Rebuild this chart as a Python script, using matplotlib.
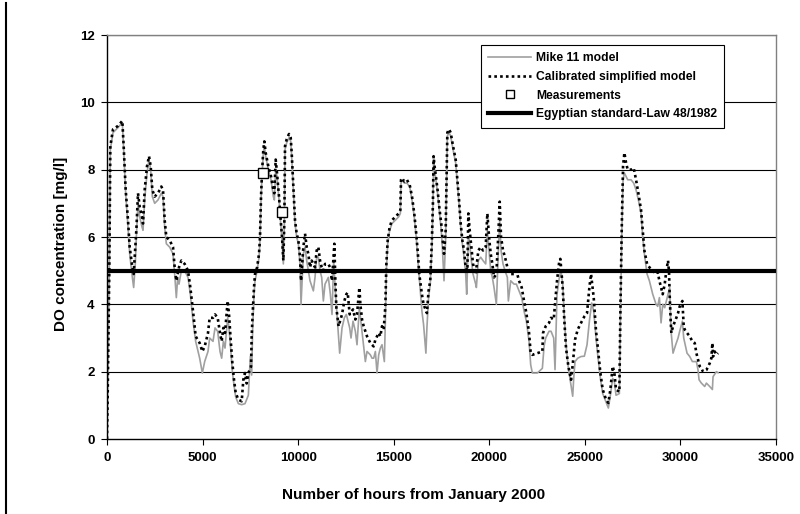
import matplotlib
matplotlib.use("Agg")
import matplotlib.pyplot as plt
from matplotlib.lines import Line2D

plt.rcParams['font.family'] = ['Liberation Sans', 'DejaVu Sans']
plt.rcParams['font.weight'] = 'bold'

# ---------------- data ----------------
hours_mike = [0, 35, 120, 174, 314, 576, 802, 872, 977, 1099, 1186, 1326, 1395, 1480, 1535, 1622, 1709, 1831, 1884,
              1971, 2093, 2198, 2285, 2372, 2494, 2668, 2842, 2930, 3017, 3104, 3279, 3453, 3540, 3627, 3700, 3767,
              3889, 4063, 4238, 4360, 4500, 4639, 4848, 4988, 5110, 5284, 5371, 5546, 5651, 5790, 5912, 5999, 6087,
              6174, 6313, 6383, 6470, 6558, 6645, 6732, 6872, 7046, 7220, 7395, 7500, 7569, 7622, 7691, 7744, 7855,
              7953, 8005, 8058, 8109, 8179, 8232, 8302, 8441, 8581, 8703, 8755, 8825, 8894, 9000, 9087, 9157, 9226,
              9279, 9313, 9400, 9522, 9610, 9662, 9749, 9836, 9924, 10011, 10098, 10151, 10273, 10360, 10447, 10534,
              10621, 10796, 10883, 10970, 11057, 11145, 11232, 11319, 11406, 11581, 11685, 11772, 11859, 11946,
              12115, 12173, 12295, 12417, 12522, 12697, 12766, 12871, 12993, 13080, 13203, 13342, 13516, 13604,
              13778, 13865, 13952, 14040, 14127, 14214, 14301, 14388, 14510, 14563, 14615, 14685, 14789, 14911,
              15086, 15260, 15347, 15382, 15434, 15556, 15690, 15835, 15957, 16074, 16178, 16266, 16388, 16475,
              16562, 16684, 16737, 16824, 16911, 16998, 17051, 17086, 17138, 17208, 17295, 17400, 17487, 17544,
              17632, 17719, 17806, 17893, 17981, 18103, 18242, 18330, 18417, 18504, 18591, 18679, 18766, 18818,
              18905, 18975, 19062, 19149, 19289, 19324, 19428, 19551, 19673, 19812, 19899, 19987, 20074, 20161,
              20248, 20370, 20475, 20545, 20615, 20719, 20824, 20946, 20998, 21120, 21295, 21417, 21556, 21696,
              21818, 21940, 22080, 22167, 22254, 22516, 22777, 22865, 22952, 23126, 23230, 23370, 23439, 23544,
              23666, 23753, 23841, 23928, 24015, 24137, 24277, 24364, 24416, 24486, 24626, 24800, 24974, 25114,
              25236, 25358, 25463, 25585, 25672, 25812, 25934, 26108, 26230, 26335, 26457, 26544, 26631, 26806,
              26858, 26928, 26998, 27068, 27155, 27242, 27417, 27556, 27678, 27800, 27940, 28027, 28114, 28254,
              28376, 28551, 28725, 28812, 28900, 28987, 29074, 29177, 29264, 29351, 29439, 29491, 29526, 29613,
              29753, 29875, 29962, 30102, 30172, 30346, 30486, 30625, 30835, 30922, 30974, 31096, 31270, 31358,
              31532, 31672, 31706, 31881, 31968]
do_mike = [0.0, 1.3, 5.0, 8.6, 9.1, 9.25, 9.4, 8.6, 7.3, 6.3, 5.5, 4.8, 4.5, 5.2, 6.0, 7.0, 6.6, 6.3, 6.2,
           7.1, 7.9, 8.3, 8.0, 7.2, 7.0, 7.1, 7.3, 7.2, 6.3, 5.8, 5.7, 5.5, 4.9, 4.2, 4.8, 4.6,
           5.0, 5.0, 4.8, 4.3, 3.5, 2.9, 2.4, 1.96, 2.3, 2.6, 3.0, 2.9, 3.3, 3.2, 2.6, 2.4, 2.9,
           2.7, 3.6, 3.3, 2.7, 2.0, 1.6, 1.25, 1.05, 1.02, 1.05, 1.3, 2.45, 1.9, 3.3, 4.3, 4.7, 5.0,
           5.4, 5.9, 7.1, 7.8, 8.5, 8.7, 8.4, 8.0, 7.7, 7.2, 7.1, 8.0, 7.8, 7.1, 6.4, 5.9, 5.2,
           6.4, 8.6, 8.8, 8.95, 8.85, 8.4, 7.4, 6.4, 6.0, 5.8, 5.2, 4.0, 5.5, 5.7, 5.3, 5.0,
           4.7, 4.4, 4.8, 5.4, 5.4, 5.0, 4.8, 4.1, 4.6, 4.8, 4.3, 3.7, 5.3, 4.4,
           3.0, 2.55, 3.3, 3.6, 3.7, 3.3, 3.0, 3.5, 3.2, 2.8, 3.9, 3.2, 2.3, 2.6,
           2.5, 2.4, 2.4, 2.6, 1.96, 2.5, 2.7, 2.8, 2.3, 3.5, 5.0, 5.8, 6.2, 6.4,
           6.5, 6.6, 6.7, 7.6, 7.7, 7.6, 7.6, 7.5, 7.1, 6.6, 6.0, 5.3, 4.4, 3.8,
           3.4, 2.55, 3.3, 4.2, 4.6, 5.7, 6.9, 8.3, 8.0, 7.7, 7.3, 6.7, 6.2, 5.7,
           4.7, 6.0, 9.0, 9.1, 9.0, 8.6, 8.2, 7.6, 7.0, 6.3, 5.8, 5.4, 4.9, 4.3,
           6.0, 5.8, 5.3, 4.9, 4.6, 4.5, 5.3, 5.4, 5.3, 5.2, 6.2, 5.6, 5.0, 4.8,
           4.5, 4.0, 5.6, 6.5, 5.6, 5.2, 5.0, 4.8, 4.1, 4.7, 4.6, 4.6, 4.4, 4.2,
           3.8, 3.5, 2.9, 2.2, 1.96, 1.96, 2.1, 2.75, 3.0, 3.2, 3.2, 3.0, 2.06, 4.3,
           4.8, 5.0, 4.6, 3.6, 2.8, 2.1, 1.6, 1.27, 1.8, 2.3, 2.4, 2.45, 2.46, 2.8,
           3.5, 4.04, 3.8, 3.0, 2.5, 1.8, 1.35, 1.1, 0.92, 1.3, 1.8, 1.7, 1.3, 1.35,
           3.5, 6.0, 7.7, 7.9, 7.8, 7.7, 7.7, 7.6, 7.4, 7.1, 6.7, 6.0, 5.5, 4.9,
           4.7, 4.3, 4.0, 3.94, 4.2, 3.45, 4.0, 3.9, 4.1, 4.3, 4.5, 3.5, 3.1, 2.55,
           2.8, 3.0, 3.2, 3.5, 3.0, 2.55, 2.45, 2.3, 2.3, 2.05, 1.76, 1.66, 1.56, 1.66,
           1.56, 1.47, 1.85, 2.0, 1.97]

hours_calib = [0, 35, 120, 174, 314, 576, 802, 872, 977, 1099, 1186, 1326, 1395, 1535, 1622, 1709, 1831, 1884,
               1971, 2093, 2198, 2285, 2372, 2494, 2668, 2842, 2930, 3017, 3104, 3279, 3453, 3540, 3627, 3767,
               3889, 4063, 4238, 4360, 4500, 4639, 4848, 4988, 5110, 5284, 5371, 5546, 5651, 5790, 5912, 5999,
               6087, 6174, 6313, 6383, 6470, 6558, 6645, 6732, 6872, 7046, 7133, 7220, 7308, 7395, 7534, 7569,
               7622, 7691, 7744, 7855, 7953, 8005, 8058, 8109, 8179, 8232, 8302, 8441, 8581, 8703, 8755, 8825,
               8894, 9000, 9087, 9157, 9226, 9279, 9313, 9400, 9522, 9610, 9662, 9749, 9836, 9924, 10011, 10098,
               10151, 10273, 10360, 10447, 10534, 10621, 10708, 10883, 10970, 11057, 11145, 11232, 11319, 11406,
               11581, 11668, 11772, 11859, 11894, 11946, 11999, 12115, 12295, 12417, 12522, 12592, 12697, 12871,
               12993, 13080, 13203, 13255, 13342, 13429, 13604, 13778, 13952, 14040, 14214, 14301, 14388, 14475,
               14563, 14615, 14685, 14789, 14911, 15086, 15260, 15347, 15382, 15434, 15556, 15690, 15835, 15957,
               16074, 16178, 16266, 16336, 16475, 16562, 16737, 16824, 16911, 16998, 17051, 17086, 17138, 17208,
               17295, 17400, 17487, 17544, 17632, 17719, 17806, 17893, 17981, 18103, 18242, 18330, 18417, 18504,
               18591, 18679, 18766, 18853, 18905, 18975, 19062, 19149, 19289, 19428, 19551, 19673, 19812, 19899,
               19987, 20074, 20161, 20248, 20370, 20475, 20545, 20615, 20719, 20824, 20946, 21120, 21295, 21417,
               21556, 21696, 21818, 21940, 22080, 22167, 22254, 22516, 22777, 22812, 22952, 23126, 23230, 23370,
               23544, 23666, 23718, 23841, 23928, 24015, 24137, 24277, 24364, 24486, 24626, 24800, 24974, 25114,
               25236, 25323, 25463, 25585, 25672, 25812, 25934, 26108, 26230, 26335, 26457, 26544, 26631, 26806,
               26858, 26928, 26998, 27068, 27155, 27242, 27417, 27556, 27678, 27800, 27940, 28027, 28114, 28254,
               28376, 28551, 28725, 28812, 28900, 28987, 29074, 29177, 29264, 29351, 29404, 29439, 29491, 29526,
               29613, 29753, 29875, 29962, 30049, 30102, 30172, 30224, 30346, 30486, 30625, 30748, 30835, 30922,
               31009, 31096, 31183, 31358, 31445, 31532, 31619, 31672, 31706, 31794, 31881, 31968]
do_calib = [0.0, 1.3, 5.0, 8.7, 9.2, 9.3, 9.45, 8.7, 7.4, 6.5, 5.7, 5.1, 4.9, 6.2, 7.3, 6.9, 6.6, 6.4,
            7.4, 8.1, 8.4, 8.1, 7.4, 7.2, 7.3, 7.5, 7.4, 6.5, 6.0, 5.9, 5.7, 5.1, 4.7, 5.1,
            5.3, 5.2, 5.0, 4.5, 3.8, 3.05, 2.85, 2.6, 2.75, 3.15, 3.6, 3.6, 3.7, 3.6, 3.15, 2.9,
            3.3, 3.15, 4.1, 3.7, 2.95, 2.26, 1.76, 1.37, 1.17, 1.12, 1.76, 1.96, 1.65, 1.96, 2.15, 3.05,
            3.74, 4.5, 4.9, 5.1, 5.5, 6.0, 7.2, 7.9, 8.6, 8.84, 8.5, 8.1, 7.8, 7.4, 7.3, 8.3,
            7.9, 7.2, 6.5, 6.0, 5.3, 6.5, 8.7, 8.9, 9.06, 8.95, 8.5, 7.5, 6.5, 6.1, 5.9, 5.4,
            4.7, 5.7, 6.1, 5.7, 5.5, 5.1, 5.3, 5.1, 5.6, 5.7, 5.3, 5.1, 5.0, 5.2,
            5.2, 5.1, 4.7, 5.5, 5.8, 4.7, 3.9, 3.35, 3.7, 4.1, 4.3, 4.35, 3.7, 3.85,
            3.55, 3.7, 4.5, 4.0, 3.55, 3.35, 3.05, 2.85, 2.75, 2.95, 3.15, 3.05, 3.35, 3.25,
            3.94, 5.2, 5.9, 6.3, 6.5, 6.6, 6.7, 6.8, 7.7, 7.75, 7.65, 7.7, 7.55, 7.2,
            6.7, 6.1, 5.5, 4.9, 4.3, 4.0, 3.74, 4.4, 4.7, 5.9, 7.0, 8.4, 8.1, 7.8,
            7.4, 6.8, 6.4, 6.0, 5.5, 6.2, 9.1, 9.2, 9.1, 8.7, 8.3, 7.7, 7.1, 6.4,
            5.9, 5.6, 5.1, 5.0, 6.7, 6.2, 5.7, 5.2, 4.9, 5.6, 5.7, 5.6, 5.7, 6.7,
            6.0, 5.5, 5.2, 4.8, 4.9, 6.1, 7.05, 6.0, 5.6, 5.4, 5.1, 4.9, 4.9, 5.0,
            4.7, 4.5, 4.1, 3.74, 3.15, 2.55, 2.5, 2.55, 2.6, 3.15, 3.35, 3.45, 3.6, 3.55,
            4.7, 5.3, 5.35, 4.5, 3.5, 2.7, 2.16, 1.76, 2.2, 2.95, 3.25, 3.45, 3.64, 3.74,
            4.5, 4.9, 4.2, 3.2, 2.75, 1.96, 1.47, 1.17, 1.07, 1.47, 2.16, 1.96, 1.47, 1.4,
            3.74, 6.2, 8.1, 8.5, 8.2, 8.0, 8.0, 8.05, 7.7, 7.3, 6.8, 6.2, 5.6, 5.2,
            5.1, 5.0, 4.9, 4.95, 4.7, 4.5, 4.3, 4.6, 5.0, 5.3, 4.95, 4.25, 3.5, 3.15,
            3.35, 3.55, 3.74, 3.94, 4.04, 4.1, 3.35, 3.25, 3.15, 3.05, 2.9, 2.85, 2.55, 2.35,
            2.16, 2.1, 2.0, 2.05, 2.15, 2.25, 2.4, 2.85, 2.45, 2.6, 2.5, 2.55]

meas_hours = [8146, 9174]
meas_do = [7.9, 6.75]

standard_do = 5.0

x_ticks = [0, 5000, 10000, 15000, 20000, 25000, 30000, 35000]
y_ticks = [0, 2, 4, 6, 8, 10, 12]

# ---------------- figure ----------------
fig = plt.figure(figsize=(8.0, 5.14), dpi=100)
ax = fig.add_axes([0.13375, 0.1459, 0.83625, 0.786])

for yv in y_ticks[1:]:
    ax.axhline(yv, color='black', lw=0.8, zorder=1)

ax.plot(hours_mike, do_mike, color='#a0a0a0', lw=1.2, zorder=2)
ax.plot(hours_calib, do_calib, color='black', lw=1.9, linestyle=(0, (1, 1.2)), zorder=3)
ax.axhline(standard_do, color='black', lw=3.0, zorder=4)
ax.plot(meas_hours, meas_do, linestyle='none', marker='s', markersize=7,
        markerfacecolor='white', markeredgecolor='black', markeredgewidth=1.0, zorder=5)

ax.set_xlim(0, 35000)
ax.set_ylim(0, 12)
ax.set_xticks(x_ticks)
ax.set_yticks(y_ticks)
ax.set_xticklabels([str(v) for v in x_ticks], fontsize=9.5, fontweight='bold')
ax.set_yticklabels([str(v) for v in y_ticks], fontsize=9.5, fontweight='bold')
ax.tick_params(axis='both', direction='out', length=4, width=0.8, color='black', pad=5)

ax.spines['left'].set_color('black')
ax.spines['bottom'].set_color('black')
ax.spines['top'].set_color('#808080')
ax.spines['right'].set_color('#808080')
for s in ax.spines.values():
    s.set_linewidth(1.0)

ax.set_xlabel('Number of hours from January 2000', fontsize=11, fontweight='bold')
ax.set_ylabel('DO concentration [mg/l]', fontsize=11, fontweight='bold')
ax.xaxis.set_label_coords(0.458, -0.122)
ax.yaxis.set_label_coords(-0.058, 0.483)

handles = [
    Line2D([], [], color='#a0a0a0', lw=1.2),
    Line2D([], [], color='black', lw=1.9, linestyle=(0, (1, 1.2))),
    Line2D([], [], linestyle='none', marker='s', markersize=6, markerfacecolor='white',
           markeredgecolor='black', markeredgewidth=1.0),
    Line2D([], [], color='black', lw=3.0),
]
labels = ['Mike 11 model', 'Calibrated simplified model', 'Measurements',
          'Egyptian standard-Law 48/1982']
leg = ax.legend(handles, labels, loc='upper left', bbox_to_anchor=(0.559, 0.975),
                frameon=True, fancybox=False, framealpha=1.0, edgecolor='black',
                prop={'size': 8.7, 'weight': 'bold', 'family': ['Liberation Sans']},
                handlelength=3.55, handletextpad=0.4, labelspacing=0.55,
                borderpad=0.6, borderaxespad=0.0)
leg.get_frame().set_linewidth(0.8)
leg.set_zorder(10)

# outer chart frame (left edge)
fig.add_artist(Line2D([0.0075, 0.0075], [0.0, 0.995], transform=fig.transFigure, color='black', lw=1.5))

fig.savefig('out.png', dpi=100)
